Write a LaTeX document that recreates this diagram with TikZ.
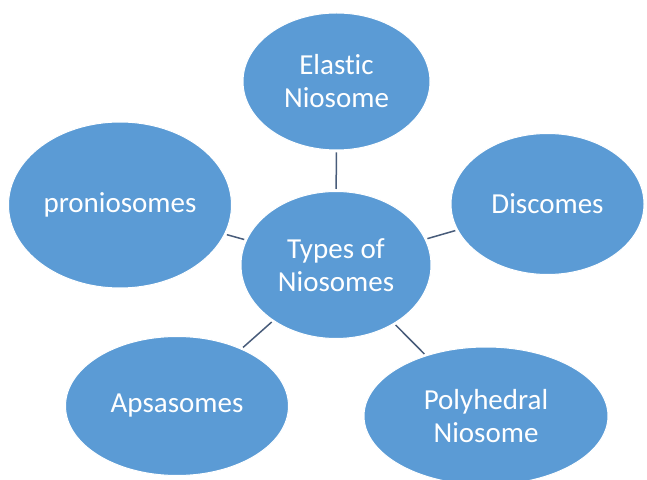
\documentclass[tikz,border=0pt]{standalone}
\usepackage{fontspec}
\setmainfont[Ligatures=NoCommon]{Carlito}
\usetikzlibrary{shapes.geometric}
\definecolor{bubblefill}{HTML}{5B9BD5}
\definecolor{linkcol}{RGB}{72,92,122}
\tikzstyle{bubble}=[ellipse,fill=bubblefill,draw=white,line width=1pt,inner sep=0pt,
  text=white,align=center,font=\fontsize{29}{33}\selectfont]
\tikzstyle{link}=[draw=linkcol,line width=1.5pt,shorten <=2pt,shorten >=2pt]

\begin{document}
\begin{tikzpicture}[x=1pt,y=1pt]
  \useasboundingbox (0,0) rectangle (647,479);
  \node [bubble,minimum width=190pt,minimum height=147pt] (types) at (336,214) {Types of\\Niosomes};
  \node [bubble,minimum width=187pt,minimum height=137pt] (elastic) at (336.5,397.5) {Elastic\\Niosome};
  \node [bubble,minimum width=223pt,minimum height=166pt] (pronio) at (120,274) {proniosomes};
  \node [bubble,minimum width=193pt,minimum height=141pt] (discomes) at (547.5,275) {Discomes};
  \node [bubble,minimum width=223pt,minimum height=139pt] (apsa) at (177,73) {Apsasomes};
  \node [bubble,minimum width=244pt,minimum height=138pt] (polyhed) at (486,63) {Polyhedral\\Niosome};
  % spokes
  \draw [link] (types) -- (elastic);
  \draw [link] (types) -- (pronio);
  \draw [link] (types) -- (discomes);
  \draw [link] (types) -- (apsa);
  \draw [link] (types) -- (polyhed);
\end{tikzpicture}
\end{document}
